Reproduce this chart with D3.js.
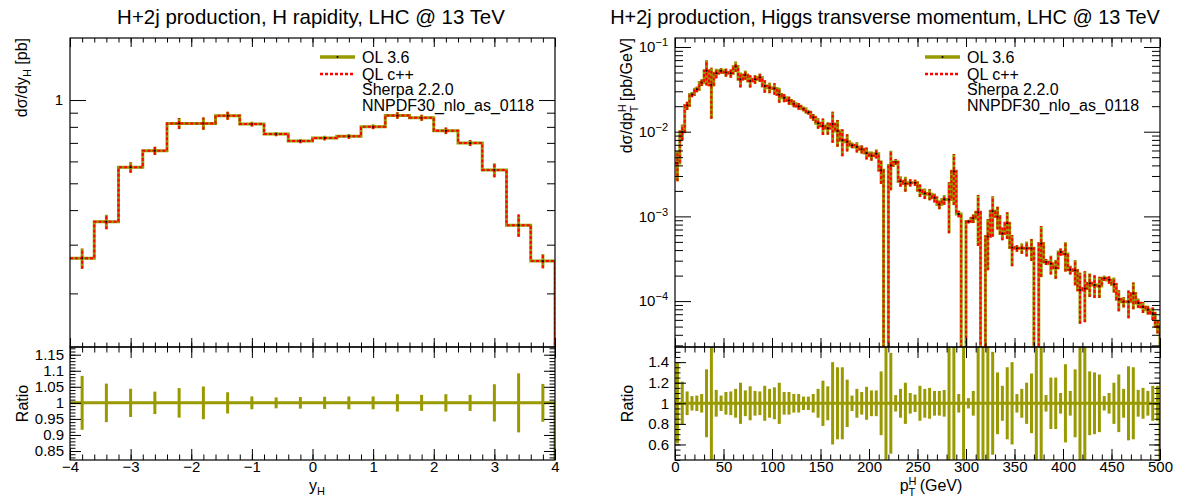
<!DOCTYPE html>
<html>
<head>
<meta charset="utf-8">
<script src="https://cdn.jsdelivr.net/npm/d3@7"></script>
<style>
  html, body { margin: 0; padding: 0; background: #fff; }
  svg { display: block; }
</style>
</head>
<body>
<svg id="chart" width="1178" height="499"></svg>
<script>
// ============================================================================
// DATA
// ============================================================================

// H rapidity, 0.4 wide bins from -4 to 4
const yhEdges = [-4, -3.6, -3.2, -2.8, -2.4, -2, -1.6, -1.2, -0.8, -0.4, 0,
                 0.4, 0.8, 1.2, 1.6, 2, 2.4, 2.8, 3.2, 3.6, 4];
const yhXsec = [0.268, 0.363, 0.571, 0.656, 0.823, 0.823, 0.878, 0.819, 0.753, 0.711,
                0.729, 0.739, 0.801, 0.880, 0.863, 0.774, 0.699, 0.558, 0.353, 0.262];
const yhRelErr = [0.084, 0.06, 0.044, 0.035, 0.046, 0.051, 0.033, 0.02, 0.017, 0.018,
                  0.019, 0.02, 0.02, 0.027, 0.025, 0.027, 0.025, 0.058, 0.092, 0.059];
const yhTicks = [-4, -3, -2, -1, 0, 1, 2, 3, 4];
const yhRatioTicks = [0.85, 0.9, 0.95, 1, 1.05, 1.1, 1.15];

// Higgs pT, 5 GeV bins from 0 to 500
const ptBinWidth = 5;
const ptXsec = [
  0.00427, 0.0100, 0.0204, 0.0275, 0.0316, 0.0380, 0.0525, 0.0355, 0.0490, 0.0525,
  0.0501, 0.0490, 0.0589, 0.0417, 0.0468, 0.0398, 0.0417, 0.0437, 0.0347, 0.0331,
  0.0324, 0.0275, 0.0251, 0.0234, 0.0214, 0.0200, 0.0186, 0.0170, 0.0148, 0.0126,
  0.0117, 0.0110, 0.0123, 0.0102, 0.0079, 0.0076, 0.0069, 0.0066, 0.0062, 0.0056,
  0.0052, 0.0055, 0.0035, 0, 0.0040, 0.0044, 0.0026, 0.00245, 0.0025, 0.0025,
  0.00204, 0.00186, 0.00182, 0.00166, 0.00138, 0.00158, 0.00158, 0.0034, 0.00107, 0,
  0.00087, 0.00095, 0.00112, 0, 0.00058, 0.00115, 0.0010, 0.00063, 0.00083, 0.00043,
  0.00042, 0.00042, 0.00042, 0.00042, 0, 0.00048, 0.00029, 0.000275, 0.000245, 0.00038,
  0.00036, 0.000234, 0.000229, 0.000135, 0.000141, 0.000162, 0.000155, 0.000151, 0.000186, 0.000178,
  0.000158, 0.000105, 0.000098, 0.000098, 0.000123, 0.000095, 0.000085, 0.000079, 0.000072, 0.00005
];
const ptRelErr = [
  0.39, 0.21, 0.115, 0.07, 0.075, 0.09, 0.33, 0.6, 0.13, 0.075,
  0.11, 0.115, 0.14, 0.2, 0.125, 0.165, 0.12, 0.115, 0.17, 0.14,
  0.155, 0.2, 0.11, 0.11, 0.09, 0.09, 0.065, 0.065, 0.09, 0.14,
  0.22, 0.165, 0.4, 0.35, 0.35, 0.23, 0.075, 0.14, 0.11, 0.16,
  0.125, 0.125, 0.31, 0.6, 0.49, 0.08, 0.14, 0.2, 0.1, 0.085,
  0.17, 0.14, 0.15, 0.12, 0.12, 0.13, 0.6, 0.6, 0.09, 0.6,
  0.05, 0.12, 0.6, 0.6, 0.6, 0.5, 0.3, 0.17, 0.35, 0.4,
  0.09, 0.14, 0.2, 0.29, 0.6, 0.6, 0.08, 0.25, 0.25, 0.1,
  0.38, 0.12, 0.33, 0.6, 0.6, 0.31, 0.3, 0.28, 0.07, 0.1,
  0.2, 0.28, 0.14, 0.36, 0.35, 0.13, 0.15, 0.12, 0.17, 0.17
];
const ptTicks = [0, 50, 100, 150, 200, 250, 300, 350, 400, 450, 500];
const ptRatioTicks = [0.6, 0.8, 1, 1.2, 1.4];

const legendLabels = ['OL 3.6', 'QL c++', 'Sherpa 2.2.0', 'NNPDF30_nlo_as_0118'];

// ============================================================================
// LAYOUT / STYLE
// ============================================================================
const FONT = '"Liberation Sans", Arial, Helvetica, sans-serif';
const OLIVE = '#999900';
const RED = '#ff0000';
const TOP = 38, MID = 347, BOTTOM = 460;

const svg = d3.select('#chart').attr('font-family', FONT);
const defs = svg.append('defs');

const fmt = d => (d < 0 ? '\u2212' + (-d) : String(d));

function addAxis(parent, axis, transform, size = 15) {
    const a = parent.append('g').attr('transform', transform).call(axis);
    a.select('.domain').remove();
    a.attr('font-family', FONT).attr('font-size', size);
    a.selectAll('line').attr('stroke', '#000').attr('stroke-width', 1);
    return a;
}

function fitTitle(sel, target) {
    const w = sel.node().getComputedTextLength();
    const fs = parseFloat(sel.attr('font-size'));
    sel.attr('font-size', fs * target / w);
}

function drawPanel(p) {
    const g = svg.append('g');
    const x = d3.scaleLinear().domain(p.xDomain).range([p.left, p.right]);
    const y = d3.scaleLog().domain(p.yDomain).range([MID, TOP]);
    const r = d3.scaleLinear().domain(p.rDomain).range([BOTTOM, MID]);

    // CLIP PATHS
    defs.append('clipPath').attr('id', p.id + '-main').append('rect')
        .attr('x', p.left).attr('y', TOP).attr('width', p.right - p.left).attr('height', MID - TOP);
    defs.append('clipPath').attr('id', p.id + '-ratio').append('rect')
        .attr('x', p.left).attr('y', MID).attr('width', p.right - p.left).attr('height', BOTTOM - MID);

    const edges = p.edges;
    const last = edges[edges.length - 1];
    const floor = p.yDomain[0] / 10;
    const yv = v => y(v > 0 ? v : floor);
    const bins = p.values.map((v, i) => ({
        c: (edges[i] + edges[i + 1]) / 2, v, e: p.errors[i]
    }));

    // HISTOGRAM OUTLINE (steps, closing down at the upper edge)
    const pts = [];
    p.values.forEach((v, i) => { pts.push([edges[i], v]); pts.push([edges[i + 1], v]); });
    pts.push([last, 0]);
    const line = d3.line().x(d => x(d[0])).y(d => yv(d[1]));

    const main = g.append('g').attr('clip-path', `url(#${p.id}-main)`);
    const withVal = bins.filter(d => d.v > 0);

    main.append('path').attr('d', line(pts))
        .attr('fill', 'none').attr('stroke', OLIVE).attr('stroke-width', 3);
    main.selectAll('line.olive').data(withVal).join('line')
        .attr('class', 'olive')
        .attr('x1', d => x(d.c)).attr('x2', d => x(d.c))
        .attr('y1', d => y(Math.max(d.v * (1 - d.e), floor)))
        .attr('y2', d => y(d.v * (1 + d.e)))
        .attr('stroke', OLIVE).attr('stroke-width', 3);

    main.append('path').attr('d', line(pts))
        .attr('fill', 'none').attr('stroke', RED).attr('stroke-width', 2)
        .attr('stroke-dasharray', '3,2');
    main.selectAll('line.red').data(withVal).join('line')
        .attr('class', 'red')
        .attr('x1', d => x(d.c)).attr('x2', d => x(d.c))
        .attr('y1', d => y(Math.max(d.v * (1 - d.e), floor)))
        .attr('y2', d => y(d.v * (1 + d.e)))
        .attr('stroke', RED).attr('stroke-width', 2).attr('stroke-dasharray', '3,2');

    main.selectAll('circle').data(withVal).join('circle')
        .attr('cx', d => x(d.c)).attr('cy', d => y(d.v)).attr('r', 1).attr('fill', '#000');

    // RATIO PANEL (OL / QL)
    const ratio = g.append('g').attr('clip-path', `url(#${p.id}-ratio)`);
    const rpts = [];
    p.values.forEach((v, i) => { rpts.push([edges[i], 1]); rpts.push([edges[i + 1], 1]); });
    rpts.push([last, 0]);
    ratio.append('path')
        .attr('d', d3.line().x(d => x(d[0])).y(d => r(d[1]))(rpts))
        .attr('fill', 'none').attr('stroke', OLIVE).attr('stroke-width', 3);
    ratio.selectAll('line').data(bins).join('line')
        .attr('x1', d => x(d.c)).attr('x2', d => x(d.c))
        .attr('y1', d => r(1 - d.e)).attr('y2', d => r(1 + d.e))
        .attr('stroke', OLIVE).attr('stroke-width', 3);

    // FRAMES
    [[TOP, MID], [MID, BOTTOM]].forEach(([t, b]) => {
        g.append('rect').attr('x', p.left).attr('y', t)
            .attr('width', p.right - p.left).attr('height', b - t)
            .attr('fill', 'none').attr('stroke', '#000').attr('stroke-width', 1.2);
    });

    // X TICKS (main: no labels, ratio: labels)
    const none = () => '';
    addAxis(g, d3.axisBottom(x).tickValues(p.xMinor).tickSize(-4.5).tickFormat(none), `translate(0,${MID})`);
    addAxis(g, d3.axisBottom(x).tickValues(p.xMajor).tickSize(-9).tickFormat(none), `translate(0,${MID})`);
    addAxis(g, d3.axisTop(x).tickValues(p.xMinor).tickSize(-4.5).tickFormat(none), `translate(0,${TOP})`);
    addAxis(g, d3.axisTop(x).tickValues(p.xMajor).tickSize(-9).tickFormat(none), `translate(0,${TOP})`);
    addAxis(g, d3.axisTop(x).tickValues(p.xMinor).tickSize(-5.5).tickFormat(none), `translate(0,${MID})`);
    addAxis(g, d3.axisTop(x).tickValues(p.xMajor).tickSize(-11).tickFormat(none), `translate(0,${MID})`);
    addAxis(g, d3.axisBottom(x).tickValues(p.xMinor).tickSize(-5.5).tickFormat(none), `translate(0,${BOTTOM})`);
    addAxis(g, d3.axisBottom(x).tickValues(p.xMajor).tickSize(-11).tickPadding(1).tickFormat(fmt), `translate(0,${BOTTOM})`);

    // Y TICKS main (log)
    addAxis(g, d3.axisLeft(y).tickValues(p.yMinor).tickSize(-8).tickFormat(none), `translate(${p.left},0)`);
    addAxis(g, d3.axisRight(y).tickValues(p.yMinor).tickSize(-8).tickFormat(none), `translate(${p.right},0)`);
    addAxis(g, d3.axisRight(y).tickValues(p.yMajor).tickSize(-16).tickFormat(none), `translate(${p.right},0)`);
    const yl = addAxis(g, d3.axisLeft(y).tickValues(p.yMajor).tickSize(-16).tickPadding(7), `translate(${p.left},0)`);
    yl.selectAll('text').each(function(d) {
        const t = d3.select(this).text('');
        if (p.powerLabels) {
            t.append('tspan').text('10');
            t.append('tspan').attr('dy', '-0.55em').attr('font-size', 11)
                .text('\u2212' + Math.round(-Math.log10(d)));
        } else {
            t.text(String(d));
        }
    });

    // Y TICKS ratio
    addAxis(g, d3.axisLeft(r).tickValues(p.rMinor).tickSize(-5.5).tickFormat(none), `translate(${p.left},0)`);
    addAxis(g, d3.axisRight(r).tickValues(p.rMinor).tickSize(-5.5).tickFormat(none), `translate(${p.right},0)`);
    addAxis(g, d3.axisRight(r).tickValues(p.rMajor).tickSize(-11).tickFormat(none), `translate(${p.right},0)`);
    addAxis(g, d3.axisLeft(r).tickValues(p.rMajor).tickSize(-11).tickPadding(6).tickFormat(fmt), `translate(${p.left},0)`);

    // TITLE
    const title = g.append('text').attr('x', p.titleX).attr('y', 24)
        .attr('text-anchor', 'middle').attr('font-size', 20).text(p.title);
    fitTitle(title, p.titleWidth);

    // AXIS TITLES
    p.yTitle(g.append('text').attr('font-size', 16).attr('text-anchor', 'end')
        .attr('transform', `translate(${p.left - 43},${TOP}) rotate(-90)`));
    g.append('text').attr('font-size', 16).attr('text-anchor', 'middle')
        .attr('transform', `translate(${p.left - 42},${(MID + BOTTOM) / 2}) rotate(-90)`)
        .text('Ratio');
    p.xTitle(g.append('text').attr('font-size', 16).attr('text-anchor', 'middle')
        .attr('x', p.xTitleX).attr('y', 491));

    // LEGEND
    const lx = p.right - 235, tx = p.right - 193;
    const rows = [57, 74, 89, 105];
    g.append('line').attr('x1', lx).attr('x2', lx + 35).attr('y1', rows[0]).attr('y2', rows[0])
        .attr('stroke', OLIVE).attr('stroke-width', 3.5);
    g.append('circle').attr('cx', lx + 17.5).attr('cy', rows[0]).attr('r', 1).attr('fill', '#000');
    g.append('line').attr('x1', lx).attr('x2', lx + 35).attr('y1', rows[1]).attr('y2', rows[1])
        .attr('stroke', RED).attr('stroke-width', 2.5).attr('stroke-dasharray', '3,2');
    g.selectAll('text.leg').data(legendLabels).join('text')
        .attr('class', 'leg')
        .attr('x', tx).attr('y', (d, i) => rows[i] + 5.5)
        .attr('font-size', 16).text(d => d);
}

// ============================================================================
// LEFT: H rapidity
// ============================================================================
drawPanel({
    id: 'yh', left: 70, right: 555,
    edges: yhEdges, values: yhXsec, errors: yhRelErr,
    xDomain: [-4, 4], yDomain: [0.128, 1.676], rDomain: [0.822, 1.174],
    xMajor: yhTicks, xMinor: d3.range(-4, 4.001, 0.2),
    yMajor: [1], yMinor: [0.2, 0.3, 0.4, 0.5, 0.6, 0.7, 0.8, 0.9],
    rMajor: yhRatioTicks, rMinor: d3.range(0.83, 1.171, 0.01),
    powerLabels: false,
    title: 'H+2j production, H rapidity, LHC @ 13 TeV', titleX: 311, titleWidth: 388,
    xTitleX: 317,
    yTitle: t => {
        t.append('tspan').text('d\u03c3/dy');
        t.append('tspan').attr('dy', 4).attr('font-size', 11).text('H');
        t.append('tspan').attr('dy', -4).text(' [pb]');
    },
    xTitle: t => {
        t.append('tspan').text('y');
        t.append('tspan').attr('dy', 4).attr('font-size', 11).text('H');
    }
});

// ============================================================================
// RIGHT: Higgs pT
// ============================================================================
const ptEdges = d3.range(0, ptXsec.length + 1).map(i => i * ptBinWidth);
const ptLogMinor = [];
[-5, -4, -3, -2, -1].forEach(e => {
    for (let m = 2; m <= 9; m++) {
        const v = m * Math.pow(10, e);
        if (v > 2.87e-5 && v < 0.1277) ptLogMinor.push(v);
    }
});

drawPanel({
    id: 'pt', left: 675, right: 1160,
    edges: ptEdges, values: ptXsec, errors: ptRelErr,
    xDomain: [0, 500], yDomain: [2.87e-5, 0.1277], rDomain: [0.449, 1.547],
    xMajor: ptTicks, xMinor: d3.range(0, 501, 10),
    yMajor: [1e-4, 1e-3, 1e-2, 1e-1], yMinor: ptLogMinor,
    rMajor: ptRatioTicks, rMinor: d3.range(0.45, 1.55, 0.05),
    powerLabels: true,
    title: 'H+2j production, Higgs transverse momentum, LHC @ 13 TeV', titleX: 885, titleWidth: 550,
    xTitleX: 931,
    yTitle: t => {
        t.append('tspan').text('d\u03c3/dp');
        t.append('tspan').attr('dy', -6).attr('font-size', 11).text('H');
        t.append('tspan').attr('dx', -8).attr('dy', 12).attr('font-size', 11).text('T');
        t.append('tspan').attr('dy', -6).text(' [pb/GeV]');
    },
    xTitle: t => {
        t.append('tspan').text('p');
        t.append('tspan').attr('dy', -6).attr('font-size', 11).text('H');
        t.append('tspan').attr('dx', -8).attr('dy', 11).attr('font-size', 11).text('T');
        t.append('tspan').attr('dy', -5).text(' (GeV)');
    }
});
</script>
</body>
</html>
